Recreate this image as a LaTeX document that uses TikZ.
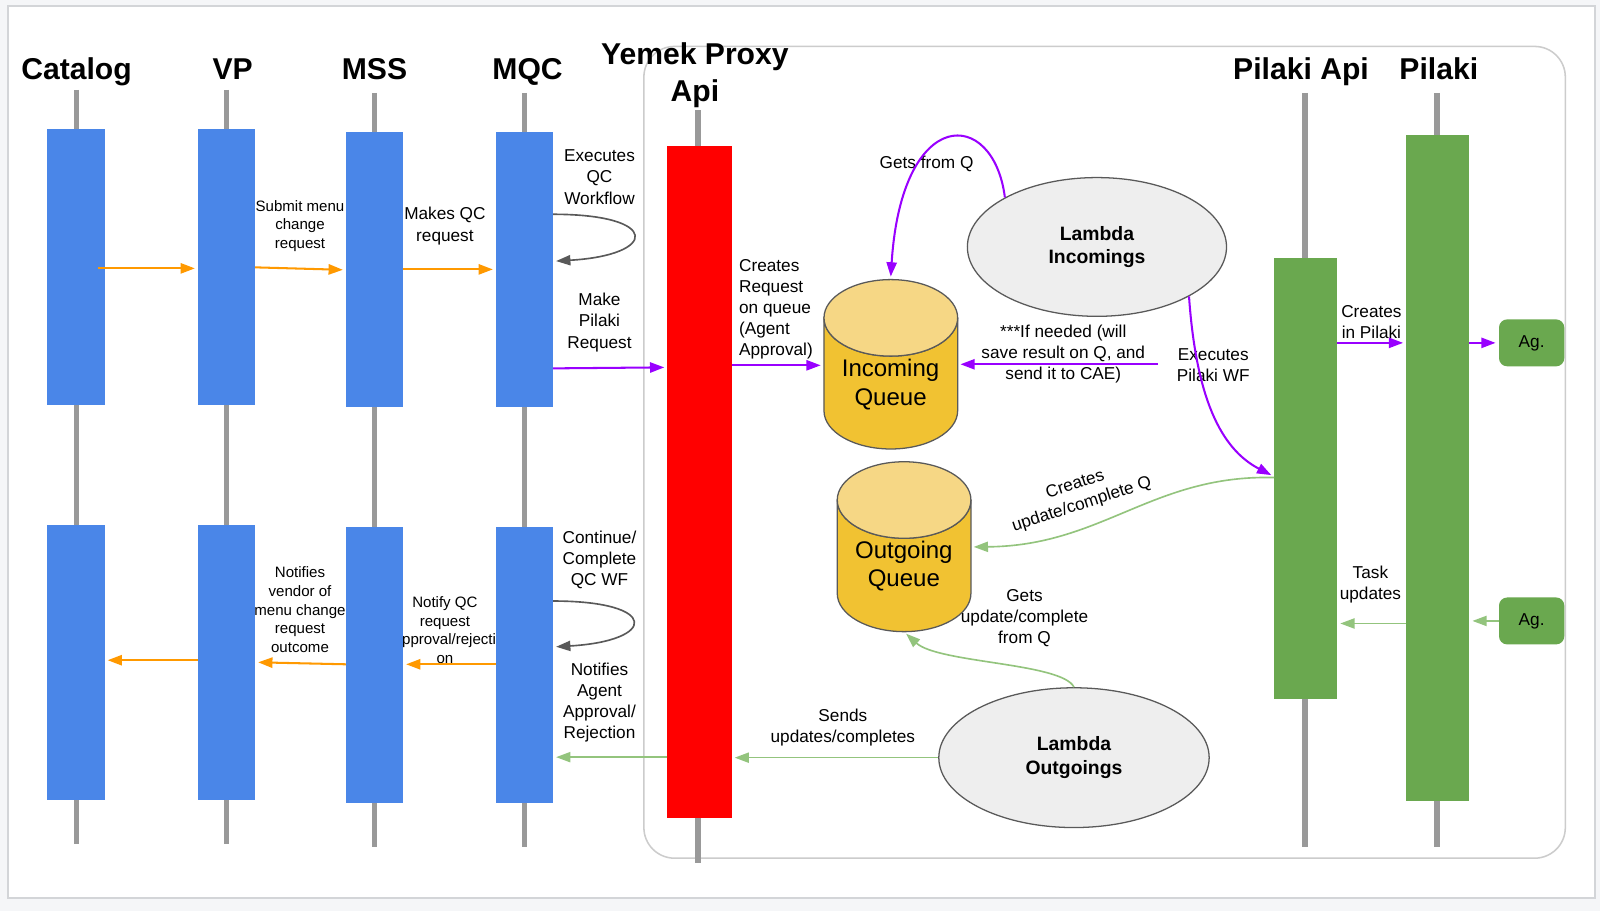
\documentclass[tikz,border=0pt]{standalone}
\usepackage{fontspec}
\setmainfont{Liberation Sans}
\usepackage{tikz}
\usetikzlibrary{shapes.geometric,arrows.meta,positioning}
\usepackage{xcolor}
\definecolor{barblue}{HTML}{4A86E8}
\definecolor{barred}{HTML}{FF0000}
\definecolor{bargreen}{HTML}{6AA84F}
\definecolor{lifegray}{HTML}{999999}
\definecolor{msgorange}{HTML}{FF9900}
\definecolor{msgpurple}{HTML}{9900FF}
\definecolor{msggreen}{HTML}{93C47D}
\definecolor{loopgray}{HTML}{595959}
\definecolor{qbody}{HTML}{F1C232}
\definecolor{qtop}{HTML}{F6D785}
\definecolor{lamfill}{HTML}{EEEEEE}
\definecolor{edgegray}{HTML}{595959}
\definecolor{pagebg}{HTML}{F5F6F8}
\definecolor{framegray}{HTML}{D3D5D8}
\definecolor{groupgray}{HTML}{CCCCCC}
\newcommand{\px}{0.02cm}
\newcommand{\queuecyl}[3]{%
  \filldraw[draw=edgegray, line width=0.025cm, fill=qbody]
    (#1,#2+37.5) -- (#1,#3-37.5)
    arc[start angle=180, end angle=0, x radius=65.5, y radius=37.5]
    -- (#1+131,#2+37.5)
    arc[start angle=0, end angle=180, x radius=65.5, y radius=37.5] -- cycle;
  \filldraw[draw=edgegray, line width=0.025cm, fill=qtop]
    (#1+65.5,#2+37.5) ellipse[x radius=65.5, y radius=37.5];}
\pgfdeclarelayer{back}
\pgfdeclarelayer{labels}
\pgfsetlayers{back,labels,main}

\begin{document}
\begin{tikzpicture}[x=\px, y=-\px,
    bar/.style={rectangle, inner sep=0pt, outer sep=0pt, minimum width=1.12cm},
    bluebar/.style={bar, fill=barblue, minimum height=5.4cm},
    greenbar/.style={bar, fill=bargreen, minimum width=1.24cm},
    lifeline/.style={draw=lifegray, line width=0.11cm},
    title/.style={font=\bfseries\fontsize{16.8}{20.4}\selectfont, align=center, inner sep=0pt},
    lbl/.style={font=\fontsize{9.6}{11.8}\selectfont, align=center, inner sep=0pt},
    smalllbl/.style={font=\fontsize{8.4}{10.4}\selectfont, align=center, inner sep=0pt},
    lambda/.style={ellipse, draw=edgegray, line width=0.025cm, fill=lamfill, inner sep=0pt,
                   font=\bfseries\fontsize{10.8}{13}\selectfont, align=center},
    queue/.style={rectangle, inner sep=0pt, outer sep=0pt, minimum width=2.62cm},
    qtext/.style={font=\fontsize{13.4}{16.1}\selectfont, align=center, inner sep=0pt},
    agent/.style={rectangle, rounded corners=0.16cm, fill=bargreen, inner sep=0pt,
                  minimum width=1.28cm, minimum height=0.92cm, font=\fontsize{9.6}{11}\selectfont},
    msg/.style={line width=0.04cm, -{Triangle[length=0.28cm, width=0.2cm]}, shorten >=0.06cm},
    omsg/.style={msg, color=msgorange},
    pmsg/.style={msg, color=msgpurple},
    gmsg/.style={msg, color=msggreen, line width=0.032cm},
    selfmsg/.style={msg, color=loopgray, line width=0.032cm}
]
\useasboundingbox (0,0) rectangle (1568,893);
\begin{pgfonlayer}{back}
\fill[pagebg] (0,0) rectangle (1568,893);
\filldraw[fill=white, draw=framegray, line width=0.04cm] (7.5,6) rectangle (1563,880);
\draw[groupgray, line width=0.03cm, rounded corners=0.6cm] (631,45.5) rectangle (1534,841);
\foreach \lx/\ltop/\lbot in {75/88/827, 222/88/827, 367/91/830, 514/91/830, 684/108/846, 1279/91/830, 1408/91/830}
  \draw[lifeline] (\lx,\ltop) -- (\lx,\lbot);
\end{pgfonlayer}

\begin{pgfonlayer}{labels}
\node[title, anchor=base] (tCAT) at (75,78) {Catalog};
\node[title, anchor=base] (tVP) at (228,78) {VP};
\node[title, anchor=base] (tMSS) at (367,78) {MSS};
\node[title, anchor=base] (tMQC) at (517,78) {MQC};
\node[title] (tYPA) at (681,73.5) {Yemek Proxy\\Api};
\node[title, anchor=base] (tPA) at (1275,78) {Pilaki Api};
\node[title, anchor=base] (tPK) at (1410,78) {Pilaki};
\node[smalllbl] (l1) at (294,221.5) {Submit menu\\change\\request};
\node[lbl] (l2) at (436,221.5) {Makes QC\\request};
\node[lbl] (l3) at (587.5,173.5) {Executes\\QC\\Workflow};
\node[lbl] (l4) at (587.5,316) {Make\\Pilaki\\Request};
\node[lbl, align=left, anchor=west] (l5) at (724,303) {Creates\\Request\\on queue\\(Agent\\Approval)};
\node[lbl] (l6) at (908,161) {Gets from Q};
\node[lbl] (l7) at (1042,347) {***If needed (will\\save result on Q, and\\send it to CAE)};
\node[lbl] (l8) at (1189,358) {Executes\\Pilaki WF};
\node[lbl] (l9) at (1344,315.5) {Creates\\in Pilaki};
\node[lbl, rotate=18] (l10) at (1057,485) {Creates\\update/complete Q};
\node[lbl] (l11) at (1343,573) {Task\\updates};
\node[lbl] (l12) at (1004,606) {Gets\\update/complete\\from Q};
\node[lbl] (l13) at (826,713) {Sends\\updates/completes};
\node[lbl] (l14) at (587.5,688.5) {Notifies\\Agent\\Approval/\\Rejection};
\node[lbl] (l15) at (587.5,548.5) {Continue/\\Complete\\QC WF};
\node[smalllbl] (l16) at (436,617.5) {Notify QC\\request\\approval/rejecti\\on};
\node[smalllbl] (l17) at (294,597.5) {Notifies\\vendor of\\menu change\\request\\outcome};
\end{pgfonlayer}

\foreach \n/\x in {CAT/74.5, VP/222}{
  \node[bluebar] (\n1) at (\x,261.5) {};
  \node[bluebar] (\n2) at (\x,649) {};}
\foreach \n/\x in {MSS/367, MQC/514}{
  \node[bluebar] (\n1) at (\x,264) {};
  \node[bluebar] (\n2) at (\x,651.5) {};}
\node[bar, fill=barred, minimum width=1.26cm, minimum height=13.18cm] (YPA) at (685.5,472.5) {};
\node[greenbar, minimum height=8.64cm] (PA) at (1279.5,469) {};
\node[greenbar, minimum height=13.06cm] (PK) at (1409,458.5) {};
\node[agent] (AG1) at (1501,336) {Ag.};
\node[agent] (AG2) at (1501,608.5) {Ag.};
\node[lambda, minimum width=5.08cm, minimum height=2.72cm] (LI) at (1075,242) {Lambda\\Incomings};
\node[lambda, minimum width=5.3cm, minimum height=2.74cm] (LO) at (1052.5,742.5) {Lambda\\Outgoings};
\queuecyl{807.5}{274}{440}
\node[queue, minimum height=3.32cm] (IQ) at (872.75,357) {};
\node[qtext] (IQt) at ([yshift=-0.4cm]IQ.center) {Incoming\\Queue};
\queuecyl{820.5}{452.5}{619}
\node[queue, minimum height=3.33cm] (OQ) at (885.75,535.75) {};
\node[qtext] (OQt) at ([yshift=-0.38cm]OQ.center) {Outgoing\\Queue};
\coordinate (IFQ) at (1135,357);

\draw[omsg] ([xshift=-0.12cm]CAT1.east |- 0,263) -- (VP1.west |- 0,263);
\draw[omsg] (VP1.east |- 0,262) -- (MSS1.west |- 0,264.5);
\draw[omsg] (MSS1.east |- 0,264) -- (MQC1.west |- 0,264);
\draw[selfmsg] (MQC1.east |- 0,210) .. controls +(106,0) and +(103,-6) .. (MQC1.east |- 0,256);
\draw[pmsg] (MQC1.east |- 0,361) -- (YPA.west |- 0,360);
\draw[pmsg] (YPA.east |- 0,358) -- (IQ.west |- 0,358);
\draw[pmsg] (LI.north west) .. controls +(-11,-88) and +(11,-172) .. (IQ.north);
\draw[pmsg] (IFQ) -- (IQ.east |- IFQ);
\draw[pmsg] (LI.south east) .. controls +(7,100) and +(-52,-27) .. (PA.west |- 0,467);
\draw[pmsg] (PA.east |- 0,336) -- (PK.west |- 0,336);
\draw[pmsg] (PK.east |- AG1.west) -- (AG1.west);
\draw[gmsg] (PA.west |- 0,468) .. controls +(-119,-3) and +(129,-1) .. (OQ.east |- 0,536);
\draw[gmsg] (AG2.west) -- (PK.east |- AG2.west);
\draw[gmsg] (PK.west |- 0,611) -- (PA.east |- 0,611);
\draw[gmsg] (LO.north) .. controls +(-12,-24) and +(34,31) .. (OQ.south);
\draw[gmsg] (LO.west) -- (YPA.east |- LO.west);
\draw[gmsg] (YPA.west |- 0,742) -- (MQC2.east |- 0,742);
\draw[selfmsg] (MQC2.east |- 0,589) .. controls +(105,0) and +(102,-6) .. (MQC2.east |- 0,634);
\draw[omsg] (MQC2.west |- 0,651) -- (MSS2.east |- 0,651);
\draw[omsg] (MSS2.west |- 0,651) -- (VP2.east |- 0,649);
\draw[omsg] (VP2.west |- 0,647) -- (CAT2.east |- 0,647);
\end{tikzpicture}
\end{document}
